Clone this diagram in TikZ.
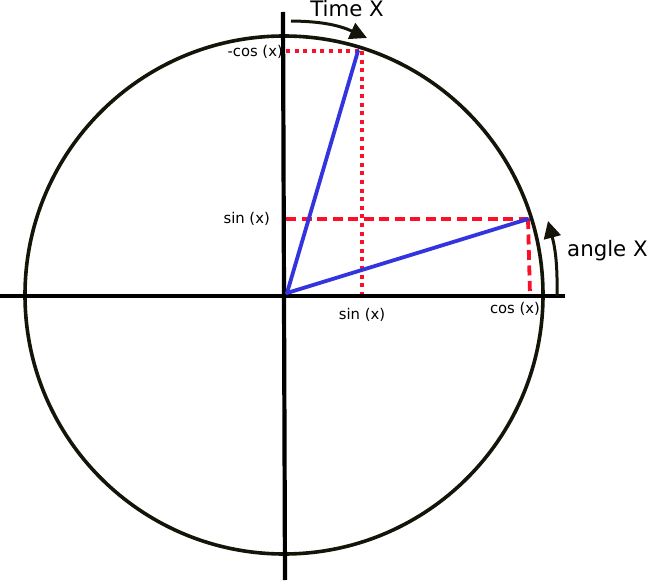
\documentclass[tikz,border=0pt]{standalone}
\usepackage{fontspec}
\setmainfont{DejaVu Sans}
\usetikzlibrary{arrows.meta}
\definecolor{circ}{RGB}{20,20,8}
\definecolor{vblue}{RGB}{52,52,222}
\definecolor{vred}{RGB}{250,16,40}
\tikzset{
  axis/.style={line width=4.2pt, black},
  ring/.style={line width=3.6pt, circ},
  vec/.style={line width=3.8pt, vblue},
  dashred/.style={line width=3.8pt, vred, dash pattern=on 10pt off 5.5pt},
  dotred/.style={line width=4pt, vred, dash pattern=on 4pt off 4.6pt},
  bigarrow/.style={line width=3pt, circ, -{Triangle[length=17pt,width=17pt]}},
  small/.style={inner sep=0pt, font=\fontsize{14.8}{17}\selectfont},
  large/.style={inner sep=0pt, font=\fontsize{21.3}{25}\selectfont}
}
\begin{document}
\begin{tikzpicture}[x=1pt,y=-1pt]
\useasboundingbox (0,0) rectangle (649,583);
% points
\coordinate (C) at (284,295);
\coordinate (O) at (287,293);
\coordinate (P) at (358,51);
\coordinate (Q) at (528,219);
\coordinate (yS) at (286,219);
\coordinate (xC) at (530,295);
\coordinate (yC) at (286,51);
\coordinate (Ptop) at (362,51);
\coordinate (xS) at (362,294);
\coordinate (hl) at (0,296);
\coordinate (hr) at (565,296);
\coordinate (vt) at (283,12);
\coordinate (vb) at (285,580);
\coordinate (t1) at (291,21);
\coordinate (t2) at (367,38);
\coordinate (a1) at (557,296);
\coordinate (a2) at (548,221);
% circle
\draw[ring] (C) circle[radius=259pt];
% red projections
\draw[dashred] (yS) -- (Q);
\draw[dashred] (Q) -- (xC);
\draw[dotred] (yC) -- (Ptop);
\draw[dotred] (Ptop) -- (xS);
% axes
\draw[axis] (hl) -- (hr);
\draw[axis] (vt) -- (vb);
% vectors
\draw[vec, line cap=round] (O) -- (P);
\draw[vec, line cap=round] (O) -- (Q);
% arrows
\draw[bigarrow] (t1) to[bend left=12] (t2);
\draw[bigarrow] (a1) to[bend right=8] (a2);
% labels
\node[large, anchor=base] (timeX) at (347,17) {Time X};
\node[large, anchor=base west] (angleX) at (567,257) {angle X};
\node[small, anchor=east] (mcos) at (283,52) {-cos (x)};
\node[small, anchor=east] (sinl) at (270,218.5) {sin (x)};
\node[small] (sinb) at (362,315) {sin (x)};
\node[small] (cosb) at (515,308.5) {cos (x)};
\end{tikzpicture}
\end{document}
